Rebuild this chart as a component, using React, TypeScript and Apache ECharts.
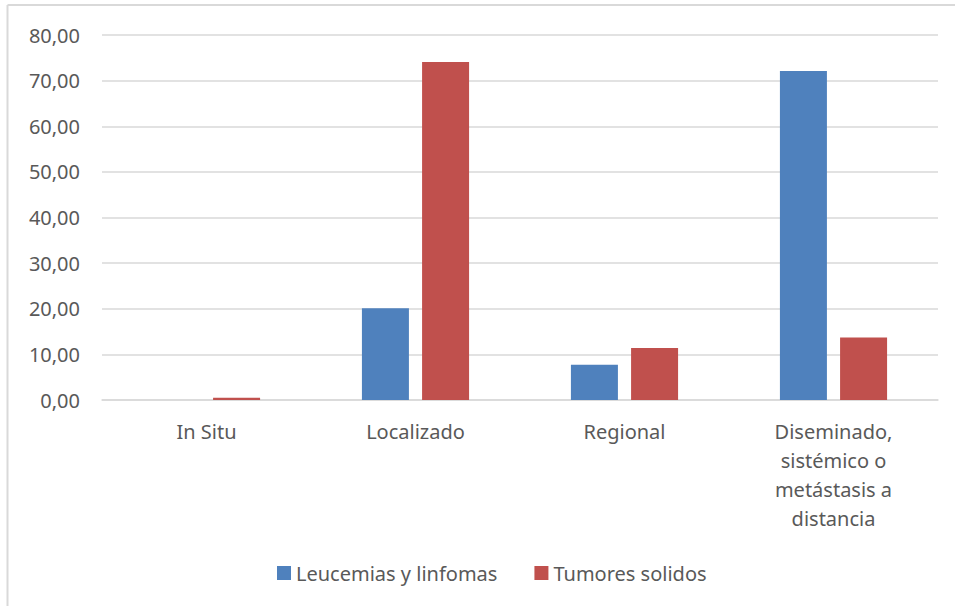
import React, { useEffect, useRef } from "react";
import * as echarts from "echarts";

const categories = [
  "In Situ",
  "Localizado",
  "Regional",
  "Diseminado,\nsistémico o\nmetástasis a\ndistancia",
];
const leucemias = [0, 20.1, 7.7, 72.1];
const tumores = [0.5, 74.1, 11.4, 13.7];
const seriesNames = ["Leucemias y linfomas", "Tumores solidos"];
const yTicks = { min: 0, max: 80, interval: 10 };

export default function App() {
  const ref = useRef<HTMLDivElement>(null);
  useEffect(() => {
    if (!ref.current) return;
    const chart = echarts.init(ref.current, null, { renderer: "svg" });
    const font = "'Noto Sans', sans-serif";
    const textColor = "#595959";
    chart.setOption({
      animation: false,
      backgroundColor: "#ffffff",
      textStyle: { fontFamily: font },
      grid: { left: 102, right: 17, top: 35, bottom: 206, containLabel: false },
      legend: {
        left: 272,
        top: 558,
        itemWidth: 14,
        itemHeight: 14,
        itemGap: 37,
        icon: "rect",
        textStyle: { color: textColor, fontSize: 20, fontFamily: font, padding: [0, 0, 0, 0] },
        data: seriesNames,
      },
      xAxis: {
        type: "category",
        data: categories,
        axisLine: { lineStyle: { color: "#d9d9d9", width: 1.5 } },
        axisTick: { show: false },
        axisLabel: {
          color: textColor,
          fontSize: 20,
          lineHeight: 29,
          margin: 17,
          interval: 0,
          align: "center",
          fontFamily: font,
        },
      },
      yAxis: {
        type: "value",
        min: yTicks.min,
        max: yTicks.max,
        interval: yTicks.interval,
        axisLine: { show: false },
        axisTick: { show: false },
        splitLine: { lineStyle: { color: "#d9d9d9", width: 1.5 } },
        axisLabel: {
          color: textColor,
          fontSize: 20,
          margin: 22,
          fontFamily: font,
          formatter: (v: number) => v.toFixed(2).replace(".", ","),
        },
      },
      series: [
        {
          name: seriesNames[0],
          type: "bar",
          data: leucemias,
          barWidth: 47,
          barGap: "28%",
          itemStyle: { color: "#4f81bd" },
        },
        {
          name: seriesNames[1],
          type: "bar",
          data: tumores,
          barWidth: 47,
          itemStyle: { color: "#c0504d" },
        },
      ],
      graphic: [
        {
          type: "line",
          shape: { x1: 7.5, y1: 5, x2: 955, y2: 5 },
          style: { stroke: "#d9d9d9", lineWidth: 2 },
          silent: true,
        },
        {
          type: "line",
          shape: { x1: 7.5, y1: 5, x2: 7.5, y2: 606 },
          style: { stroke: "#d9d9d9", lineWidth: 2 },
          silent: true,
        },
      ],
    });
    return () => chart.dispose();
  }, []);
  return <div ref={ref} style={{ width: 955, height: 606, position: "absolute", left: 0, top: 0 }} />;
}
